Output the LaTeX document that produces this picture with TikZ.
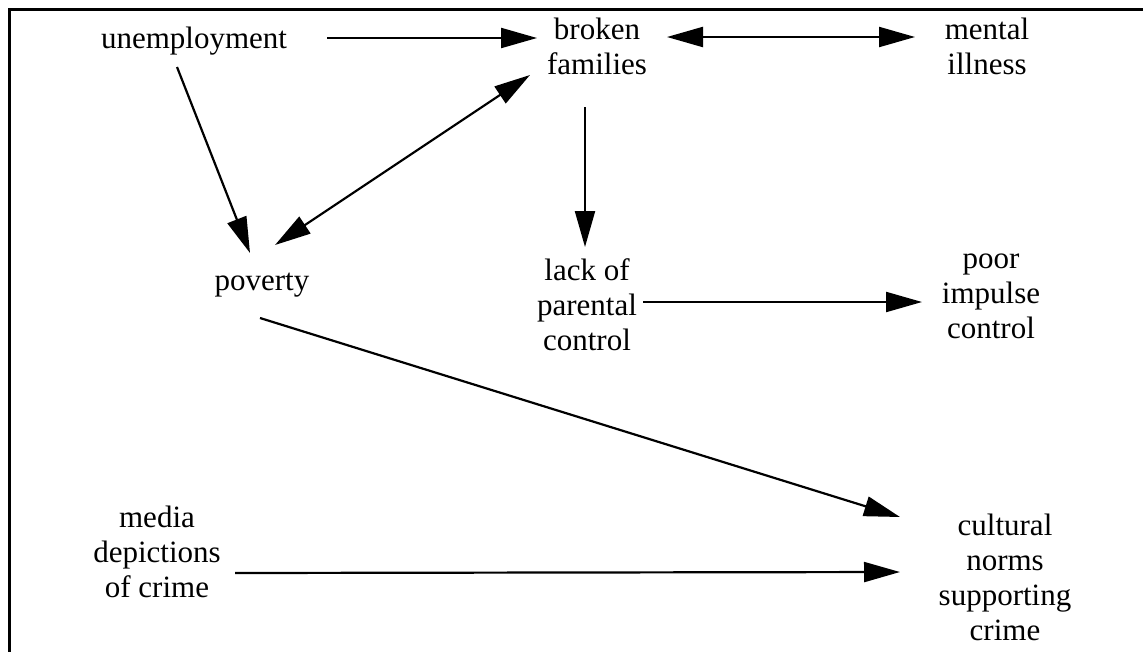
\documentclass[tikz,border=0pt]{standalone}
\usepackage{fontspec}
\setmainfont{Liberation Serif}
\usetikzlibrary{arrows.meta}
\tikzset{
  lbl/.style={align=center, inner sep=0pt, outer sep=0pt,
    font=\fontsize{31}{35}\selectfont,
    execute at begin node=\strut, execute at end node=\strut},
  arr/.style={line width=2.2pt, -{Triangle[length=36pt,width=20pt]}},
  darr/.style={line width=2.2pt, {Triangle[length=36pt,width=20pt]}-{Triangle[length=36pt,width=20pt]}},
  frame/.style={line width=3.5pt}
}
\begin{document}
\begin{tikzpicture}[x=1pt,y=-1pt]
\useasboundingbox (0,0) rectangle (1143,651);
\draw[frame] (9.5,660) -- (9.5,9.5) -- (1150,9.5);

\node[lbl] (unemp)   at (194,41)    {unemployment};
\node[lbl] (broken)  at (597,51.5)  {broken\\families};
\node[lbl] (mental)  at (987,51.5)  {mental\\illness};
\node[lbl] (poverty) at (262,283)   {poverty};
\node[lbl] (lack)    at (587,310)   {lack of\\parental\\control};
\node[lbl] (poor)    at (991,301)   {poor\\impulse\\control};
\node[lbl] (media)   at (157,557)   {media\\depictions\\of crime};
\node[lbl] (cult)    at (1005,582.5){cultural\\norms\\supporting\\crime};

\draw[arr]  ([shift={(133,-3)}]unemp.center)   -- ([shift={(-60,-13.5)}]broken.center);
\draw[darr] ([shift={(70,-14.5)}]broken.center) -- ([shift={(-72,-14.5)}]mental.center);
\draw[arr]  ([shift={(-17,26)}]unemp.center)   -- ([shift={(-12,-30)}]poverty.center);
\draw[darr] ([shift={(13,-38)}]poverty.center) -- ([shift={(-67,23.5)}]broken.center);
\draw[arr]  ([shift={(-12,55.5)}]broken.center) -- ([shift={(-2,-63)}]lack.center);
\draw[arr]  ([shift={(56,-8)}]lack.center)     -- ([shift={(-69,1)}]poor.center);
\draw[arr]  ([shift={(-2,35)}]poverty.center)  -- ([shift={(-105,-65.5)}]cult.center);
\draw[arr]  ([shift={(78,16)}]media.center)    -- ([shift={(-105,-10.5)}]cult.center);
\end{tikzpicture}
\end{document}
